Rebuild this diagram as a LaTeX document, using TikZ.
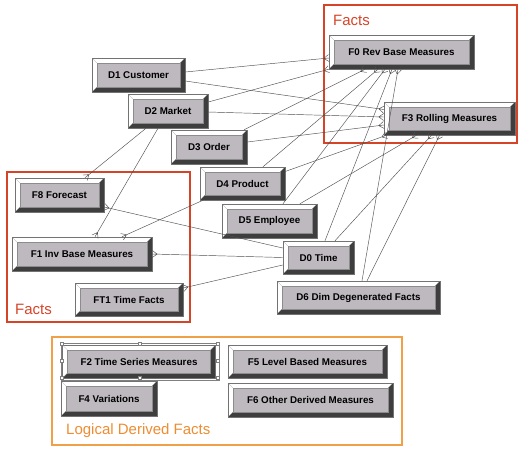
\documentclass[tikz,border=0pt]{standalone}
\usepackage{fontspec}
\setmainfont{Liberation Sans}
\usetikzlibrary{calc}
\definecolor{btnface}{RGB}{190,185,191}
\definecolor{btndark}{RGB}{62,62,62}
\definecolor{factred}{RGB}{214,68,40}
\definecolor{logorange}{RGB}{240,160,70}
\definecolor{logtext}{RGB}{238,140,50}
\definecolor{connc}{RGB}{80,80,80}
\newcommand\btnbv{5pt}
\tikzset{
  btn/.style={rectangle, draw=black!55, line width=0.5pt, fill=btnface, inner sep=0pt,
    font=\fontsize{9.8}{11}\selectfont\bfseries,
    path picture={
      \fill[white] (path picture bounding box.north west) -- (path picture bounding box.north east)
        -- ([xshift=-\btnbv,yshift=-\btnbv]path picture bounding box.north east)
        -- ([xshift=\btnbv,yshift=-\btnbv]path picture bounding box.north west)
        -- ([xshift=\btnbv,yshift=\btnbv]path picture bounding box.south west)
        -- (path picture bounding box.south west) -- cycle;
      \fill[btndark] (path picture bounding box.south east) -- (path picture bounding box.south west)
        -- ([xshift=\btnbv,yshift=\btnbv]path picture bounding box.south west)
        -- ([xshift=-\btnbv,yshift=\btnbv]path picture bounding box.south east)
        -- ([xshift=-\btnbv,yshift=-\btnbv]path picture bounding box.north east)
        -- (path picture bounding box.north east) -- cycle;
      \draw[black!45, line width=0.4pt] ([xshift=\btnbv,yshift=-\btnbv]path picture bounding box.north west)
        rectangle ([xshift=-\btnbv,yshift=\btnbv]path picture bounding box.south east);
      \draw[black!35, line width=0.3pt] (path picture bounding box.north west) -- ([xshift=\btnbv,yshift=-\btnbv]path picture bounding box.north west)
        (path picture bounding box.south west) -- ([xshift=\btnbv,yshift=\btnbv]path picture bounding box.south west)
        (path picture bounding box.north east) -- ([xshift=-\btnbv,yshift=-\btnbv]path picture bounding box.north east);
    }},
  conn/.style={draw=connc, line width=0.45pt},
  crow/.style={to path={-- (\tikztotarget)
      ($(\tikztotarget)!5pt!(\tikztostart)$) -- ($(\tikztotarget)!3.5pt!90:(\tikztostart)$)
      ($(\tikztotarget)!5pt!(\tikztostart)$) -- ($(\tikztotarget)!3.5pt!-90:(\tikztostart)$)}},
  grpbox/.style={line width=1.8pt},
  grplabel/.style={font=\fontsize{15}{17}\selectfont, inner sep=0pt},
  handle/.style={draw=black!50, fill=white, line width=0.4pt, minimum size=3pt, inner sep=0pt, rectangle}
}
\begin{document}
\begin{tikzpicture}[x=1pt,y=-1pt]
\useasboundingbox (0,0) rectangle (519,451);
% group boxes
\draw[grpbox, factred] (324,5) rectangle (517,143);
\draw[grpbox, factred] (7,172) rectangle (190,322);
\draw[grpbox, logorange] (52,337) rectangle (402,445);
\node[grplabel, text=factred, anchor=west] (lblfacts1) at (333,20) {Facts};
\node[grplabel, text=factred, anchor=west] (lblfacts2) at (15,309) {Facts};
\node[grplabel, text=logtext, anchor=west] (lbllog) at (66,431) {Logical Derived Facts};

% dimension nodes
\node[btn, minimum width=93pt, minimum height=34pt] (d1) at (138.5,75) {D1 Customer};
\node[btn, minimum width=80pt, minimum height=34pt] (d2) at (168,111) {D2 Market};
\node[btn, minimum width=76pt, minimum height=34pt] (d3) at (209,147) {D3 Order};
\node[btn, minimum width=85pt, minimum height=33pt] (d4) at (242.5,183.5) {D4 Product};
\node[btn, minimum width=95pt, minimum height=34pt] (d5) at (269.5,221) {D5 Employee};
\node[btn, minimum width=71pt, minimum height=33pt] (d0) at (318.5,257.5) {D0 Time};
\node[btn, minimum width=163pt, minimum height=33pt] (d6) at (358.5,297.5) {D6 Dim Degenerated Facts};
% fact nodes
\node[btn, minimum width=145pt, minimum height=34pt] (f0) at (401.5,52) {F0 Rev Base Measures};
\node[btn, minimum width=131pt, minimum height=33pt] (f3) at (449.5,118.5) {F3 Rolling Measures};
\node[btn, minimum width=89pt, minimum height=34pt] (f8) at (59.5,195) {F8 Forecast};
\node[btn, minimum width=140pt, minimum height=34pt] (f1) at (82,254) {F1 Inv Base Measures};
\node[btn, minimum width=108pt, minimum height=33pt] (ft1) at (129,299.5) {FT1 Time Facts};
% logical derived facts
\node[btn, minimum width=153pt, minimum height=33pt] (f2) at (139,361.5) {F2 Time Series Measures};
\node[btn, minimum width=159pt, minimum height=33pt] (f5) at (307.5,361.5) {F5 Level Based Measures};
\node[btn, minimum width=96pt, minimum height=35pt] (f4) at (109,398.5) {F4 Variations};
\node[btn, minimum width=165pt, minimum height=34pt] (f6) at (310.5,400) {F6 Other Derived Measures};

% selection handles on F2
\draw[black!50, line width=0.4pt] ([xshift=-1.5pt,yshift=1.5pt]f2.north west) rectangle ([xshift=3pt,yshift=-1.5pt]f2.south east);
\foreach \hx/\hy [count=\i] in {62/344, 140/344, 218/344, 62/361, 218/361, 62/378, 140/378, 218/378}
  \node[handle] (h\i) at (\hx,\hy) {};

% connectors
\draw[conn] ([yshift=3pt]d1.east) to[crow] ([yshift=-6pt]f0.west);
\draw[conn] ([yshift=-6pt]d1.east) to[crow] ([yshift=9pt]f3.west);
\draw[conn] ([yshift=9pt]d2.east) to[crow] (f0.south west);
\draw[conn] ([yshift=-1pt]d2.east) to[crow] ([yshift=1.5pt]f3.west);
\draw[conn] ([xshift=-22pt]d2.south) to[crow] ([xshift=25.5pt]f8.north);
\draw[conn] ([xshift=-10pt]d2.south) to[crow] ([xshift=13pt]f1.north);
\draw[conn] ([xshift=35pt]d3.north) to[crow] ([xshift=-36.5pt]f0.south);
\draw[conn] ([yshift=5pt]d3.east) to[crow] ([yshift=-6.5pt]f3.west);
\draw[conn] ([xshift=20.5pt]d4.north) to[crow] ([xshift=-23.5pt]f0.south);
\draw[conn] ([yshift=12pt]d4.east) to[crow] ([xshift=-63pt]f3.south);
\draw[conn] ([xshift=-39.5pt]d4.south) to[crow] ([xshift=40pt]f1.north);
\draw[conn] ([xshift=13.5pt]d5.north) to[crow] ([xshift=-16.5pt]f0.south);
\draw[conn] ([xshift=30.5pt]d5.north) to[crow] ([xshift=-33pt]f3.south);
\draw[conn] ([xshift=6.5pt]d0.north) to[crow] ([xshift=-9.5pt]f0.south);
\draw[conn] ([xshift=16.5pt]d0.north) to[crow] ([xshift=-18pt]f3.south);
\draw[conn] ([xshift=3.5pt]d6.north) to[crow] ([xshift=-3.5pt]f0.south);
\draw[conn] ([xshift=8.5pt]d6.north) to[crow] ([xshift=-10pt]f3.south);
\draw[conn] ([yshift=9.5pt]d0.west) to[crow] ([yshift=-12pt]f8.east);
\draw[conn] (d0.west) to[crow] (f1.east);
\draw[conn] ([yshift=-7.5pt]d0.west) to[crow] ([yshift=11.5pt]ft1.east);
\end{tikzpicture}
\end{document}
